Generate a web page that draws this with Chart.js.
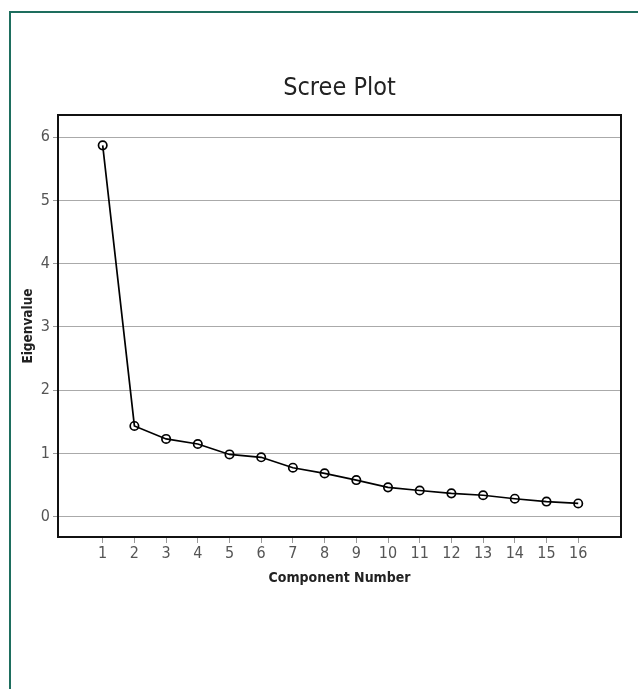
<!DOCTYPE html>
<html>
<head>
<meta charset="utf-8">
<script src="https://cdn.jsdelivr.net/npm/chart.js@4.4.0/dist/chart.umd.min.js"></script>
<style>
  html, body { margin: 0; padding: 0; background: #fff; }
  #wrap { position: relative; width: 638px; height: 689px; overflow: hidden; }
  #frame { position: absolute; left: 9px; top: 11px; right: -5px; bottom: -5px;
           border-left: 2px solid #1e6e5e; border-top: 2px solid #1e6e5e; }
  #title { position: absolute; left: 58px; width: 563px; top: 72px; text-align: center;
           font-family: 'DejaVu Sans Condensed', 'Liberation Sans', sans-serif; font-size: 25px;
           line-height: 30px; color: #222; }
  canvas { position: absolute; left: 0; top: 0; }
</style>
</head>
<body>
<div id="wrap">
  <div id="frame"></div>
  <canvas id="c" width="638" height="689"></canvas>
  <div id="title"></div>
</div>
<script>
const components = [1, 2, 3, 4, 5, 6, 7, 8, 9, 10, 11, 12, 13, 14, 15, 16];
const eigenvalues = [5.87, 1.435, 1.23, 1.15, 0.985, 0.94, 0.775, 0.685, 0.58, 0.465, 0.415, 0.37, 0.34, 0.285, 0.24, 0.21];
const yTicks = [0, 1, 2, 3, 4, 5, 6];
const titleText = 'Scree Plot';
const xTitle = 'Component Number';
const yTitle = 'Eigenvalue';

document.getElementById('title').textContent = titleText;

const FONT = "'DejaVu Sans Condensed', 'Liberation Sans', sans-serif";

const points = components.map((c, i) => ({ x: c, y: eigenvalues[i] }));

const framePlugin = {
  id: 'frame',
  afterDraw(chart) {
    const { ctx, chartArea: a } = chart;
    ctx.save();
    ctx.strokeStyle = '#111';
    ctx.lineWidth = 2;
    ctx.strokeRect(a.left, a.top, a.right - a.left, a.bottom - a.top);
    ctx.restore();
  }
};

new Chart(document.getElementById('c'), {
  type: 'line',
  data: {
    datasets: [{
      data: points,
      borderColor: '#000',
      borderWidth: 1.7,
      pointRadius: 4.2,
      pointBorderWidth: 1.7,
      pointBorderColor: '#000',
      pointBackgroundColor: 'rgba(255,255,255,0)',
      tension: 0
    }]
  },
  options: {
    responsive: false,
    animation: false,
    layout: { padding: { left: 0, right: 17, top: 115, bottom: 0 } },
    plugins: {
      legend: { display: false },
      tooltip: { enabled: false },
      title: { display: false }
    },
    scales: {
      x: {
        type: 'linear',
        min: -0.41,
        max: 17.35,
        afterBuildTicks(scale) { scale.ticks = components.map(v => ({ value: v })); },
        afterFit(scale) { scale.height = 152; },
        grid: { drawOnChartArea: false, drawTicks: true, tickLength: 6, tickColor: '#999', tickWidth: 1 },
        border: { display: true, color: '#111', width: 2 },
        ticks: { color: '#555', padding: 1, font: { family: FONT, size: 16 }, autoSkip: false, maxRotation: 0 },
        title: {
          display: true, text: xTitle, color: '#222',
          font: { family: FONT, size: 14, weight: 'bold', lineHeight: 1.2 },
          padding: { top: 0, bottom: 102 }
        }
      },
      y: {
        min: -0.32,
        max: 6.35,
        afterBuildTicks(scale) { scale.ticks = yTicks.map(v => ({ value: v })); },
        afterFit(scale) { scale.width = 58; },
        grid: { drawTicks: true, tickLength: 5, tickColor: '#999', color: '#aaa', lineWidth: 1 },
        border: { display: true, color: '#111', width: 2 },
        ticks: { color: '#555', padding: 3, font: { family: FONT, size: 16 } },
        title: {
          display: true, text: yTitle, color: '#222',
          font: { family: FONT, size: 13.5, weight: 'bold', lineHeight: 1.2 },
          padding: { top: 20, bottom: 0 }
        }
      }
    }
  },
  plugins: [framePlugin]
});
</script>
</body>
</html>
